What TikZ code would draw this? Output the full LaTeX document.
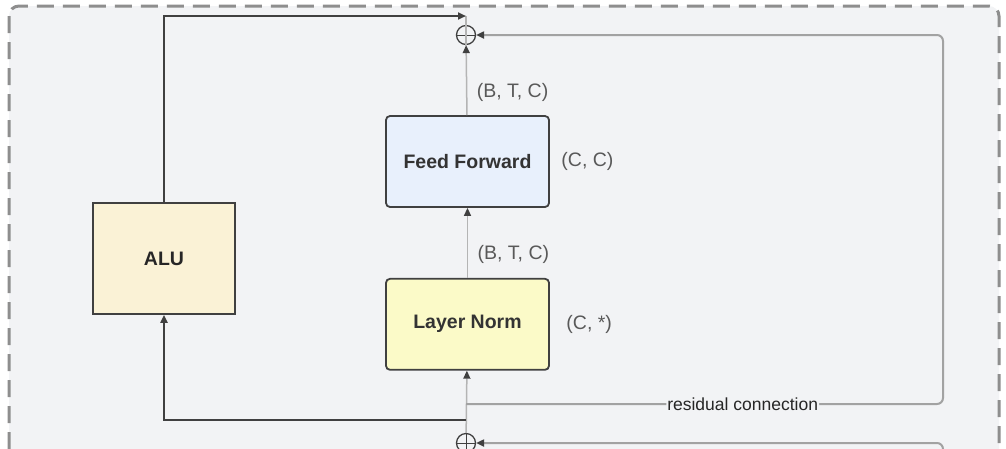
\documentclass[tikz,border=0pt]{standalone}
\usepackage{fontspec}
\setmainfont{Liberation Sans}
\usetikzlibrary{positioning, arrows.meta}

\definecolor{bgGray}{HTML}{F2F3F5}
\definecolor{borderGray}{HTML}{8E8E8E}
\definecolor{ffBlue}{HTML}{E8F0FC}
\definecolor{lnYellow}{HTML}{FBFAC8}
\definecolor{aluCream}{HTML}{FAF2D6}
\definecolor{edgeDark}{HTML}{404040}
\definecolor{lineGray}{HTML}{B4B4B4}
\definecolor{resGray}{HTML}{A2A2A2}

\begin{document}
\begin{tikzpicture}[
    x=1pt, y=-1pt,
    >={Triangle[length=8pt, width=7pt, color=edgeDark]},
    font=\fontsize{19.5}{22}\selectfont,
    box/.style={
        rectangle,
        draw=edgeDark,
        line width=1.8pt,
        rounded corners=4pt,
        minimum width=163pt,
        minimum height=91pt,
        text=black!80,
        font=\fontsize{19.5}{22}\selectfont\bfseries
    },
    alubox/.style={
        rectangle,
        draw=edgeDark,
        fill=aluCream,
        line width=1.8pt,
        minimum width=142pt,
        minimum height=111pt,
        text=black!85,
        font=\fontsize{19.5}{22}\selectfont\bfseries
    },
    plus/.style={
        circle,
        draw=edgeDark,
        line width=1.3pt,
        minimum size=19pt,
        inner sep=0pt,
        path picture={\draw[edgeDark, line width=0.9pt]
            (path picture bounding box.north) -- (path picture bounding box.south)
            (path picture bounding box.west) -- (path picture bounding box.east);}
    },
    dims/.style={anchor=west, text=black!65, xshift=6pt},
    flow/.style={->, draw=lineGray, line width=1.5pt},
    resflow/.style={->, draw=resGray, line width=2pt, rounded corners=6pt},
    thickarrow/.style={->, draw=edgeDark, line width=2.5pt}
]

\useasboundingbox (0,0) rectangle (1006,448);
\clip (0,0) rectangle (1006,448);

% Block container
\draw[draw=borderGray, fill=bgGray, line width=3pt, dash pattern=on 17pt off 9pt, rounded corners=10pt]
    (9,6) rectangle (999,480);

% Sums
\node[plus] (sumTop) at (466,35) {};
\node[plus] (sumBot) at (466,443) {};

% Blocks
\node[box, fill=ffBlue] (ff) at (467.5,161.5) {Feed Forward};
\node[box, fill=lnYellow, below=70pt of ff] (ln) {Layer Norm};
\node[alubox] (alu) at (164,258.5) {ALU};

% Weight shapes
\node[anchor=west, text=black!65] (ffShape) at (ff.east) [xshift=8pt] {(C, C)};
\node[anchor=west, text=black!65] (lnShape) at (ln.east) [xshift=13pt] {(C, *)};

% Taps
\coordinate (resTap) at (466,404);
\coordinate (aluTap) at (466,420);
\coordinate (outTop) at (466,16);
\coordinate (resRight) at (943,35);

% Arrows
\draw[flow] (sumBot) -- (ln);
\draw[flow] (ln) -- node[dims, pos=0.33] {(B, T, C)} (ff);
\draw[flow] (ff) -- node[dims, pos=0.32] {(B, T, C)} (sumTop);
\draw[draw=lineGray, line width=1.5pt] (sumTop) -- (outTop) -- ++(0,30);

% ALU branch
\draw[thickarrow] (aluTap) -| (alu.south);
\draw[thickarrow] (alu.north) |- (outTop);

% Residual connections
\draw[resflow] (resTap) -- node[pos=0.58, fill=bgGray, inner sep=1pt, text=black!85,
    font=\fontsize{17.5}{19}\selectfont] {residual connection}
    (resTap -| resRight) -- (resRight) -- (sumTop);
\draw[resflow] (943,480) -- (943,443) -- (sumBot);

\end{tikzpicture}
\end{document}
